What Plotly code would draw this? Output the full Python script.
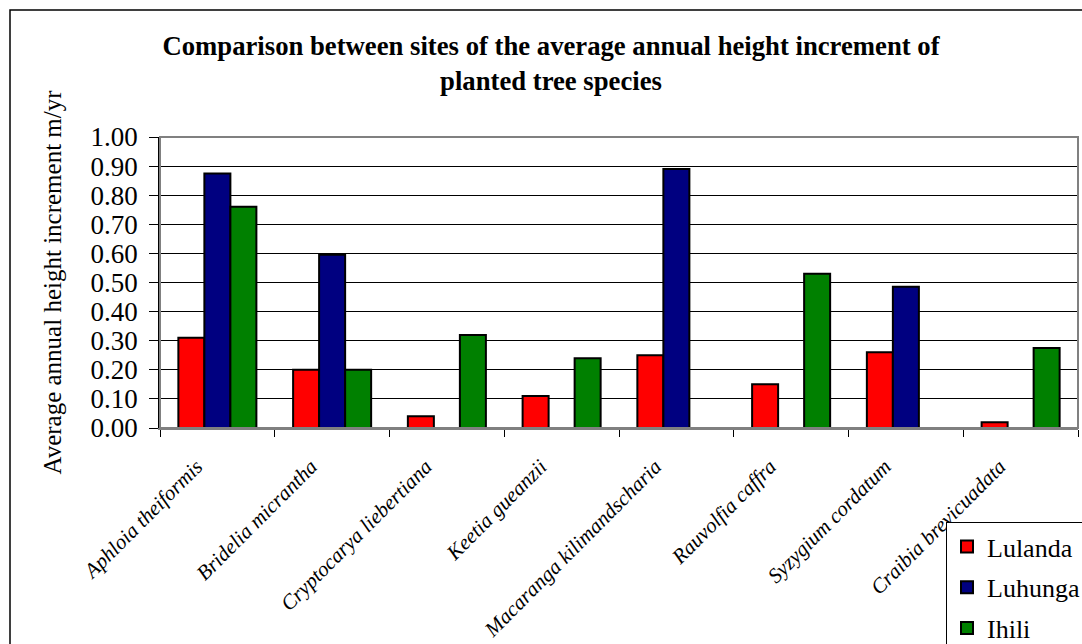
import plotly.graph_objects as go

species = ["Aphloia theiformis", "Bridelia micrantha", "Cryptocarya liebertiana",
           "Keetia gueanzii", "Macaranga kilimandscharia", "Rauvolfia caffra",
           "Syzygium cordatum", "Craibia brevicuadata"]
lulanda = [0.31, 0.20, 0.04, 0.11, 0.25, 0.15, 0.26, 0.02]
luhunga = [0.875, 0.595, None, None, 0.89, None, 0.485, None]
ihili = [0.76, 0.20, 0.32, 0.24, None, 0.53, None, 0.275]
series_names = ["Lulanda", "Luhunga", "Ihili"]
series_colors = ["#FF0000", "#000080", "#008000"]
y_ticks = [0.0, 0.1, 0.2, 0.3, 0.4, 0.5, 0.6, 0.7, 0.8, 0.9, 1.0]

W, H = 1082, 644
L, R, T, B = 160, 4, 137, 216
pw, ph = W - L - R, H - T - B

def px2paper_x(x):
    return (x - L) / pw

def px2paper_y(y):
    return (H - B - y) / ph

serif = "Liberation Serif"

fig = go.Figure()
for name, vals, col in zip(series_names, [lulanda, luhunga, ihili], series_colors):
    fig.add_trace(go.Bar(
        x=species, y=vals, name=name, legendgroup=name,
        marker=dict(color=col, line=dict(color="black", width=2)),
    ))

fig.update_layout(
    width=W, height=H,
    margin=dict(l=L, r=R, t=T, b=B, autoexpand=False),
    paper_bgcolor="white", plot_bgcolor="white",
    barmode="group", bargap=0.32, bargroupgap=0,
    font=dict(family=serif, color="black"),
    title=dict(
        text="<b>Comparison between sites of the average annual height increment of<br>planted tree species</b>",
        x=px2paper_x(551), xref="paper", xanchor="center",
        y=1 - 55 / H, yref="container", yanchor="top",
        font=dict(family=serif, size=26.7, color="black"),
    ),
    legend=dict(
        x=px2paper_x(946), y=px2paper_y(522), xanchor="left", yanchor="top",
        bordercolor="black", borderwidth=1, bgcolor="white",
        font=dict(family=serif, size=26, color="black"),
        traceorder="grouped", tracegroupgap=4,
    ),
    xaxis=dict(
        type="category", tickangle=-45, tickson="boundaries",
        ticks="outside", ticklen=7, tickcolor="black",
        showline=True, linecolor="#808080", linewidth=2,
        tickfont=dict(family=serif, size=21, color="black", style="italic"),
        showgrid=False, ticklabelshift=-21, ticklabelstandoff=16,
    ),
    yaxis=dict(
        range=[0, 1.0], tickvals=y_ticks, tickformat=".2f",
        ticks="outside", ticklen=9, tickcolor="black",
        showline=True, linecolor="black", linewidth=1.5,
        showgrid=True, gridcolor="black", gridwidth=1,
        tickfont=dict(family=serif, size=27, color="black"),
        ticklabelstandoff=6,
        title=dict(text="Average annual height increment m/yr",
                   font=dict(family=serif, size=25, color="black"), standoff=22),
        zeroline=False,
    ),
    shapes=[
        dict(type="rect", xref="paper", yref="paper",
             x0=0, x1=1, y0=0, y1=1,
             line=dict(color="#808080", width=2), layer="above"),
        dict(type="rect", xref="paper", yref="paper",
             x0=px2paper_x(10), x1=px2paper_x(1095),
             y0=px2paper_y(660), y1=px2paper_y(10),
             line=dict(color="black", width=1.5)),
    ],
)

fig.write_html("out.html", config={"displayModeBar": False},
               post_script="document.body.style.margin='0px';")
